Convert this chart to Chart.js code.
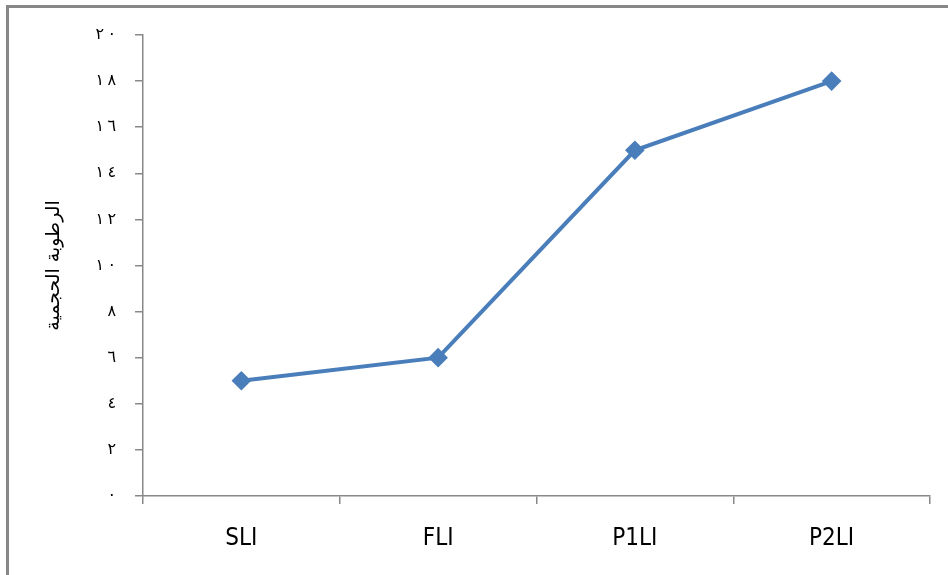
<!DOCTYPE html>
<html>
<head>
<meta charset="utf-8">
<script src="https://cdn.jsdelivr.net/npm/chart.js@4/dist/chart.umd.min.js"></script>
<style>
  html, body { margin: 0; padding: 0; background: #ffffff; }
  #wrap { width: 948px; height: 575px; position: relative; }
</style>
</head>
<body>
<div id="wrap"><canvas id="c" width="948" height="575"></canvas></div>
<script>
// Sites along the transect and their volumetric moisture readings
const categories = ['SLI', 'FLI', 'P1LI', 'P2LI'];
const moisture = [5, 6, 15, 18];
const yAxisTitle = 'الرطوبة الحجمية';
// Eastern Arabic numerals for the value axis, spaced apart;
// LRM marks keep the digits in left-to-right order around the gap
const arabicDigits = ['٠', '١', '٢', '٣', '٤', '٥', '٦', '٧', '٨', '٩'];
const toArabic = v => String(v).split('').map(d => arabicDigits[+d] ?? d).join('\u200E\u2009\u200E');

// Grey frame around the whole figure
const framePlugin = {
  id: 'frame',
  beforeDraw(chart) {
    const ctx = chart.ctx;
    ctx.save();
    ctx.strokeStyle = '#878787';
    ctx.lineWidth = 3;
    ctx.beginPath();
    ctx.moveTo(7.5, chart.height + 5);
    ctx.lineTo(7.5, 6.5);
    ctx.lineTo(chart.width + 5, 6.5);
    ctx.stroke();
    ctx.restore();
  }
};

new Chart(document.getElementById('c'), {
  type: 'line',
  data: {
    labels: categories,
    datasets: [{
      data: moisture,
      borderColor: '#4A7EBB',
      backgroundColor: '#4A7EBB',
      borderWidth: 4,
      pointStyle: 'rectRot',
      pointRadius: 7,
      pointHoverRadius: 7,
      tension: 0,
      fill: false
    }]
  },
  options: {
    responsive: false,
    animation: false,
    devicePixelRatio: 1,
    layout: { padding: { left: 0, right: 18, top: 35, bottom: 0 } },
    plugins: { legend: { display: false }, tooltip: { enabled: false } },
    scales: {
      x: {
        offset: true,
        afterFit(scale) { scale.height = 79; },
        border: { display: true, color: '#888888', width: 1.5 },
        grid: { offset: true, drawOnChartArea: false, drawTicks: true, tickLength: 8, color: '#888888', lineWidth: 1.5 },
        ticks: {
          color: '#000000',
          padding: 20,
          maxRotation: 0,
          font: { family: 'DejaVu Sans Condensed, DejaVu Sans, sans-serif', size: 24 }
        }
      },
      y: {
        min: 0,
        max: 20,
        afterFit(scale) { scale.width = 143; },
        border: { display: true, color: '#888888', width: 1.5 },
        grid: { drawOnChartArea: false, drawTicks: true, tickLength: 8, color: '#888888', lineWidth: 1.5 },
        ticks: {
          stepSize: 2,
          color: '#000000',
          padding: 19,
          font: { family: 'DejaVu Sans, sans-serif', size: 16 },
          callback: v => toArabic(v)
        },
        title: {
          display: true,
          text: yAxisTitle,
          color: '#000000',
          padding: { top: 43, bottom: 0 },
          font: { family: 'DejaVu Sans, sans-serif', size: 19 }
        }
      }
    }
  },
  plugins: [framePlugin]
});
</script>
</body>
</html>
